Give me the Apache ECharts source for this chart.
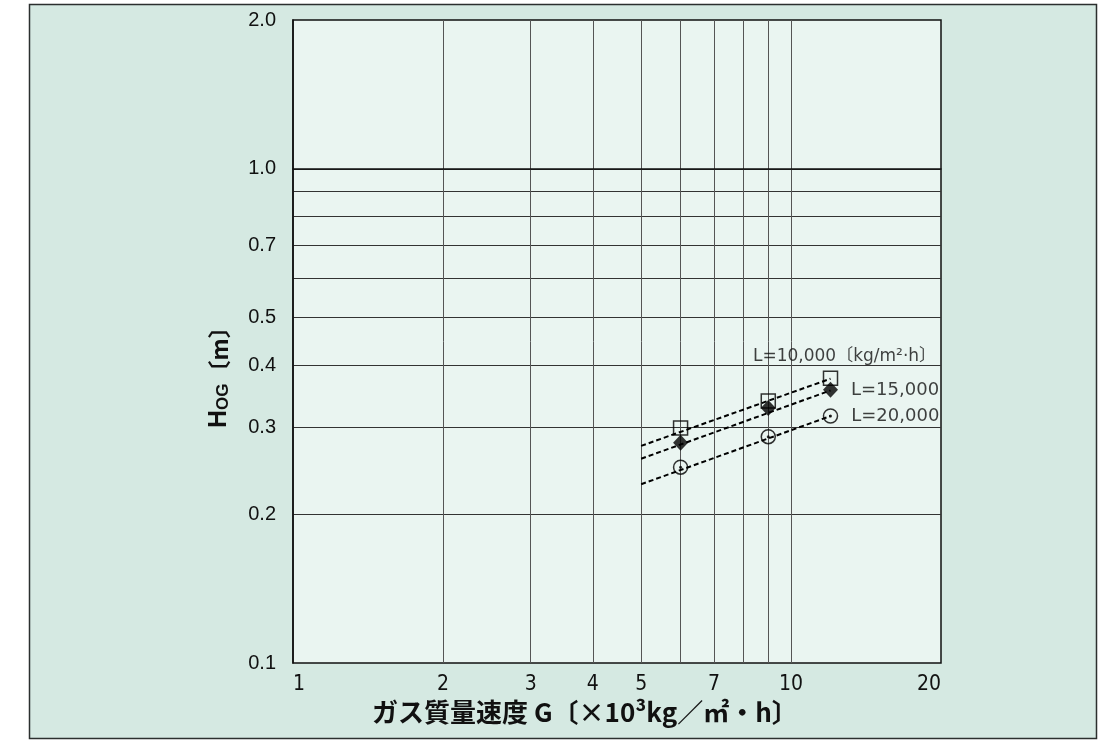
<!DOCTYPE html>
<html><head><meta charset="utf-8">
<script src="https://cdn.jsdelivr.net/npm/echarts@6/dist/echarts.min.js"></script>
<style>html,body{margin:0;padding:0;background:#fff}#c{width:1112px;height:740px}</style>
</head><body><div id="c"></div>
<script>
// ---- data ----
const xLabelValues = [1, 2, 3, 4, 5, 7, 10, 20];
const xGridValues = [2, 3, 4, 5, 6, 7, 8, 9, 10];
const yLabelValues = [0.1, 0.2, 0.3, 0.4, 0.5, 0.7, 1.0, 2.0];
const yGridValues = [0.2, 0.3, 0.4, 0.5, 0.6, 0.7, 0.8, 0.9, 1.0];
const G = [6, 9, 12];
const H_L10000 = [0.299, 0.339, 0.377];
const H_L15000 = [0.279, 0.328, 0.357];
const H_L20000 = [0.249, 0.287, 0.316];
const fitG = [5, 12];
const fit_L10000 = [0.275, 0.376];
const fit_L15000 = [0.259, 0.356];
const fit_L20000 = [0.230, 0.316];
const seriesNames = ['L=10,000〔kg/m²·h〕', 'L=15,000', 'L=20,000'];

const lg = Math.log10;
const pts = (xs, ys) => xs.map((x, i) => [lg(x), lg(ys[i])]);
const SANS = 'Liberation Sans, Arial, sans-serif';
const NARROW = 'DejaVu Sans Condensed, Liberation Sans, sans-serif';

const chart = echarts.init(document.getElementById('c'));
const dashLine = (name, ys) => ({
  name: name + ' fit', type: 'line', data: pts(fitG, ys), symbol: 'none', silent: true,
  lineStyle: { color: '#000', width: 2, type: [5, 3] }, z: 3
});
const lastLabel = (txt, pos, extra) => ({
  show: true, color: '#111', fontSize: 18, fontFamily: 'DejaVu Sans, Noto Sans CJK JP, sans-serif',
  position: pos, formatter: p => p.dataIndex === G.length - 1 ? txt : '', ...extra
});

chart.setOption({
  backgroundColor: '#fff',
  animation: false,
  graphic: [
    { type: 'rect', z: -10, shape: { x: 29.5, y: 4.5, width: 1067, height: 734 },
      style: { fill: '#d5e9e2', stroke: '#2b2f2e', lineWidth: 1.5 } },
    { type: 'text', left: 372, top: 699, z: 10,
      style: { text: 'ガス質量速度 G〔×10³kg／㎡・h〕', fontSize: 26, fontWeight: 'bold',
        fontFamily: 'Noto Sans CJK JP', fill: '#111' } },
    { type: 'text', x: 207, y: 428, rotation: Math.PI / 2, z: 10,
      style: { text: '{a|H}{b|OG}{c|〔m〕}', fill: '#111',
        rich: { a: { fontSize: 25, fontFamily: SANS, fontWeight: 'bold' },
                b: { fontSize: 17, fontFamily: SANS, fontWeight: 'bold', verticalAlign: 'bottom' },
                c: { fontSize: 23, fontFamily: 'Noto Sans CJK JP', fontWeight: 'bold' } } } }
  ],
  grid: { left: 293, right: 171, top: 20, bottom: 77, show: true,
    backgroundColor: '#eaf5f1', borderColor: '#111', borderWidth: 1.5 },
  xAxis: {
    type: 'value', min: 0, max: lg(20),
    axisLine: { show: true, lineStyle: { color: '#111', width: 1.5 } },
    axisTick: { show: false, customValues: xGridValues.map(lg) },
    splitLine: { show: true, lineStyle: { color: '#555', width: 1 } },
    axisLabel: { customValues: xLabelValues.map(lg), formatter: v => String(Math.round(Math.pow(10, v))),
      fontSize: 21, fontFamily: NARROW, color: '#111', margin: 11,
      alignMinLabel: 'left', alignMaxLabel: 'right' }
  },
  yAxis: {
    type: 'value', min: -1, max: lg(2),
    axisLine: { show: true, lineStyle: { color: '#111', width: 1.5 } },
    axisTick: { show: false, customValues: yGridValues.map(lg) },
    splitLine: { show: true, lineStyle: { color: '#333', width: 1 } },
    axisLabel: { customValues: yLabelValues.map(lg), formatter: v => Math.pow(10, v).toFixed(1),
      fontSize: 20, fontFamily: SANS, color: '#111', margin: 17 }
  },
  series: [
    dashLine(seriesNames[0], fit_L10000),
    dashLine(seriesNames[1], fit_L15000),
    dashLine(seriesNames[2], fit_L20000),
    { name: seriesNames[0], type: 'scatter', data: pts(G, H_L10000), symbol: 'rect', symbolSize: 14,
      itemStyle: { color: 'rgba(0,0,0,0)', borderColor: '#000', borderWidth: 1.5 }, z: 4,
      label: lastLabel(seriesNames[0], 'top', { distance: 5, offset: [14, 0], fontSize: 17 }) },
    { name: seriesNames[1], type: 'scatter', data: pts(G, H_L15000), symbol: 'diamond', symbolSize: [15, 16],
      itemStyle: { color: '#000' }, z: 5,
      label: lastLabel(seriesNames[1], 'right', { distance: 13 }) },
    { name: seriesNames[2], type: 'scatter', data: pts(G, H_L20000), symbol: 'circle', symbolSize: 14,
      itemStyle: { color: 'rgba(0,0,0,0)', borderColor: '#000', borderWidth: 1.5 }, z: 4,
      label: lastLabel(seriesNames[2], 'right', { distance: 13 }) },
    { name: seriesNames[2] + ' dot', type: 'scatter', data: pts(G, H_L20000), symbol: 'circle', symbolSize: 3,
      itemStyle: { color: '#000' }, z: 6, silent: true }
  ]
});
</script></body></html>
